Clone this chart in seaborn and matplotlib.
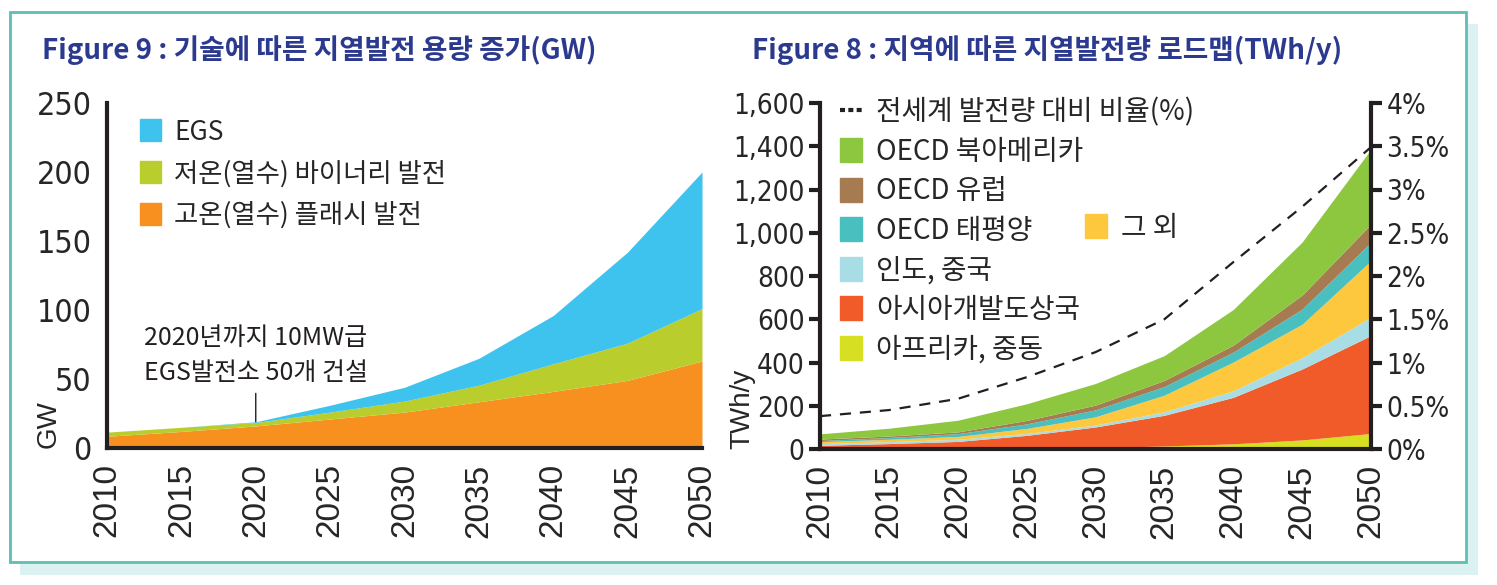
import pandas as pd
import seaborn as sns
import matplotlib.pyplot as plt
from matplotlib.patches import Rectangle, Patch
from matplotlib.lines import Line2D
from matplotlib.ticker import FuncFormatter

years = [2010, 2015, 2020, 2025, 2030, 2035, 2040, 2045, 2050]

# Figure 9 : capacity by technology (GW)
flash_gw = [8.5, 12, 16, 21, 26, 33.5, 41, 49, 63]
binary_gw = [3, 3, 2.5, 5, 8, 12, 20, 27, 38]
egs_gw = [0, 0, 0.5, 5, 10, 19.5, 35, 66, 99]

# Figure 8 : generation by region (TWh/y)
africa_me = [1, 1, 2, 3, 6, 14, 24, 42, 72]
asia_dev = [16, 24, 33, 60, 96, 142, 215, 328, 453]
india_china = [8, 9, 10, 9, 9, 16, 30, 52, 85]
other = [9, 11, 13, 23, 38, 77, 133, 155, 261]
oecd_pac = [5, 8, 13, 21, 32, 40, 46, 70, 85]
oecd_eu = [7, 7, 8, 16, 22, 28, 32, 65, 84]
oecd_na = [24, 36, 54, 77, 100, 115, 165, 245, 346]
share_pct = [0.38, 0.45, 0.58, 0.83, 1.12, 1.5, 2.16, 2.8, 3.49]

gw = pd.DataFrame({'year': years, 'flash': flash_gw, 'binary': binary_gw, 'egs': egs_gw})
twh = pd.DataFrame({'year': years, 'africa': africa_me, 'asia': asia_dev, 'india': india_china,
                    'other': other, 'pac': oecd_pac, 'eu': oecd_eu, 'na': oecd_na, 'share': share_pct})

sns.set_theme(style='white')
plt.rcParams['font.family'] = ['Noto Sans CJK KR', 'DejaVu Sans']
plt.rcParams['axes.unicode_minus'] = False

W, H = 1497, 585
fig = plt.figure(figsize=(W / 100, H / 100), dpi=100)
fig.patch.set_facecolor('white')

# panel frame with shadow
fig.patches.append(Rectangle((20 / W, 1 - 575 / H), 1458 / W, 551 / H, transform=fig.transFigure,
                             facecolor='#dcf1f2', edgecolor='none', zorder=-3))
fig.patches.append(Rectangle((10 / W, 1 - 562 / H), 1456 / W, 550 / H, transform=fig.transFigure,
                             facecolor='white', edgecolor='#5dbfb4', linewidth=2, zorder=-2))

title_kw = dict(fontsize=20, fontweight='bold', color='#2b3a8f', va='center', ha='left')
fig.text(42 / W, 1 - 50 / H, 'Figure 9 : 기술에 따른 지열발전 용량 증가(GW)', **title_kw)
fig.text(752 / W, 1 - 50 / H, 'Figure 8 : 지역에 따른 지열발전량 로드맵(TWh/y)', **title_kw)

narrow = ['DejaVu Sans Condensed', 'Liberation Sans Narrow', 'DejaVu Sans']
plain = ['Liberation Sans', 'DejaVu Sans']
spine_c = '#231f20'


def narrow_labels(labels, size):
    for lab in labels:
        lab.set_family(narrow)
        lab.set_stretch('condensed')
        lab.set_fontsize(size)


def style_axis(ax, ysize):
    for s in ['top', 'right']:
        ax.spines[s].set_visible(False)
    for s in ['left', 'bottom']:
        ax.spines[s].set_linewidth(3)
        ax.spines[s].set_color(spine_c)
    ax.tick_params(axis='both', length=8, width=3, color=spine_c, direction='out', pad=3)
    ax.set_xlim(2010, 2050)
    ax.set_xticks(years)
    ax.set_xticklabels([str(y) for y in years], rotation=90, fontsize=24, family=plain)
    narrow_labels(ax.get_yticklabels(), ysize)
    ax.set_facecolor('none')


# ---- left chart
ax1 = fig.add_axes([107 / W, 1 - 448 / H, 595 / W, 345 / H])
ax1.stackplot(gw['year'], gw['flash'], gw['binary'], gw['egs'],
              colors=['#f7901e', '#b9cd2d', '#3ec3ee'], linewidth=0)
ax1.set_ylim(0, 250)
ax1.set_yticks(range(0, 251, 50))
style_axis(ax1, 23)
ax1.set_ylabel('GW', loc='bottom', fontsize=20, family=plain)
ax1.yaxis.set_label_coords(-0.076, 0.0)

leg1 = ax1.legend(handles=[Patch(color='#3ec3ee', label='EGS'),
                           Patch(color='#b9cd2d', label='저온(열수) 바이너리 발전'),
                           Patch(color='#f7901e', label='고온(열수) 플래시 발전')],
                  loc='upper left', bbox_to_anchor=(0.055, 0.955), frameon=False, fontsize=19,
                  handlelength=0.8, handleheight=0.9, handletextpad=0.5, labelspacing=0.55,
                  borderpad=0, borderaxespad=0)

total_2020 = gw.loc[gw['year'] == 2020, ['flash', 'binary', 'egs']].sum(axis=1).iloc[0]
ax1.annotate('2020년까지 10MW급\nEGS발전소 50개 건설', xy=(2020, total_2020), xytext=(2020, 45),
             ha='center', va='bottom', fontsize=18, linespacing=1.45, color='#231f20',
             arrowprops=dict(arrowstyle='-', color='#231f20', lw=1, shrinkA=3, shrinkB=0))

# ---- right chart
ax2 = fig.add_axes([820 / W, 1 - 449 / H, 551 / W, 346 / H])
ax2.stackplot(twh['year'], twh['africa'], twh['asia'], twh['india'], twh['other'],
              twh['pac'], twh['eu'], twh['na'],
              colors=['#d7df23', '#f15a29', '#a9dde6', '#fdc83e', '#4abfbf', '#a77b52', '#8dc63f'],
              linewidth=0)
ax2.set_ylim(0, 1600)
ax2.set_yticks(range(0, 1601, 200))
ax2.yaxis.set_major_formatter(FuncFormatter(lambda v, p: f'{int(v):,}'))
style_axis(ax2, 20)
ax2.set_ylabel('TWh/y', loc='bottom', fontsize=20, family=plain)
ax2.yaxis.set_label_coords(-0.118, 0.0)

ax2r = ax2.twinx()
sns.lineplot(data=twh, x='year', y='share', ax=ax2r, color='#231f20', linewidth=1.6,
             linestyle=(0, (5, 4)), legend=False)
ax2r.set_ylim(0, 4)
ax2r.set_yticks([i * 0.5 for i in range(9)])
ax2r.yaxis.set_major_formatter(FuncFormatter(lambda v, p: f'{v:g}%'))
for s in ['top', 'left', 'bottom']:
    ax2r.spines[s].set_visible(False)
ax2r.spines['right'].set_linewidth(3)
ax2r.spines['right'].set_color(spine_c)
ax2r.tick_params(axis='y', length=8, width=3, color=spine_c, direction='out', pad=3)
narrow_labels(ax2r.get_yticklabels(), 20)
ax2r.set_ylabel('')
ax2r.set_xlim(2010, 2050)

handles2 = [Line2D([], [], color='#231f20', linewidth=3, linestyle=(0, (1.2, 0.8)),
                   label='전세계 발전량 대비 비율(%)'),
            Patch(color='#8dc63f', label='OECD 북아메리카'),
            Patch(color='#a77b52', label='OECD 유럽'),
            Patch(color='#4abfbf', label='OECD 태평양'),
            Patch(color='#a9dde6', label='인도, 중국'),
            Patch(color='#f15a29', label='아시아개발도상국'),
            Patch(color='#d7df23', label='아프리카, 중동')]
leg_kw = dict(loc='upper left', frameon=False, fontsize=20, handlelength=0.8, handleheight=0.95,
              handletextpad=0.5, labelspacing=0.34, borderpad=0, borderaxespad=0)
leg2 = ax2r.legend(handles=handles2, bbox_to_anchor=(0.036, 1.016), **leg_kw)
ax2r.add_artist(leg2)
ax2r.legend(handles=[Patch(color='#fdc83e', label='그 외')], bbox_to_anchor=(0.481, 0.683), **leg_kw)

fig.savefig('out.png', dpi=100)
